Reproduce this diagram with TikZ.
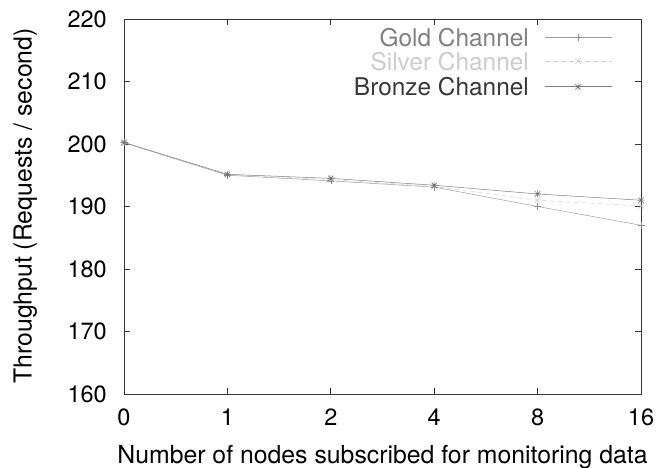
\documentclass[tikz,border=0pt]{standalone}
\usepackage{fontspec}
\setmainfont{TeX Gyre Heros}
\begin{document}
\begin{tikzpicture}[x=1pt,y=1pt,
  every node/.style={inner sep=0pt, font=\fontsize{23.5}{28}\selectfont},
  titlefont/.style={font=\fontsize{24.8}{30}\selectfont},
  frame/.style={draw=black!80, line width=0.8pt},
  tickmark/.style={draw=black!80, line width=0.7pt},
  goldline/.style={draw=black!38, line width=0.5pt},
  silverline/.style={draw=black!18, line width=0.5pt, dash pattern=on 5pt off 3pt},
  bronzeline/.style={draw=black!50, line width=0.5pt},
  goldmark/.pic={\draw[black!45, line width=0.5pt] (-3.5pt,0pt) -- (3.5pt,0pt) (0pt,-3.5pt) -- (0pt,3.5pt);},
  silvermark/.pic={\draw[black!22, line width=0.5pt] (-2.7pt,-2.7pt) -- (2.7pt,2.7pt) (-2.7pt,2.7pt) -- (2.7pt,-2.7pt);},
  bronzemark/.pic={\draw[black!58, line width=0.5pt] (-2.7pt,-2.7pt) -- (2.7pt,2.7pt) (-2.7pt,2.7pt) -- (2.7pt,-2.7pt) (-3.5pt,0pt) -- (3.5pt,0pt) (0pt,-3.5pt) -- (0pt,3.5pt);},
]
\useasboundingbox (0,0) rectangle (665,468);

% plot area: x index 0..5, throughput 160..220
\begin{scope}[shift={(124,74)}, x=103.4pt, y=6.25pt]
  % ticks on all four sides
  \foreach \i in {1,...,4} {
    \draw[tickmark] (\i,0) -- ++(0pt,6pt);
    \draw[tickmark] (\i,60) -- ++(0pt,-6pt);
  }
  \foreach \v in {10,20,...,50} {
    \draw[tickmark] (0,\v) -- ++(6pt,0pt);
    \draw[tickmark] (5,\v) -- ++(-6pt,0pt);
  }
  \draw[frame] (0,0) rectangle (5,60);

  % tick labels
  \foreach \v/\t [count=\k] in {0/160,10/170,20/180,30/190,40/200,50/210,60/220}
    \node[anchor=east] (yl\k) at ([xshift=-17pt]0,\v) {\t};
  \foreach \i/\t in {0/0,1/1,2/2,3/4,4/8,5/16}
    \node[anchor=base] (xl\i) at ([yshift=-32pt]\i,0) {\t};

  % data points
  \foreach \i/\v in {0/40.2,1/35.0,2/34.1,3/33.1,4/30.0,5/27.0}
    \coordinate (g\i) at (\i,\v);
  \foreach \i/\v in {0/40.2,1/35.1,2/34.3,3/33.2,4/31.0,5/30.1}
    \coordinate (s\i) at (\i,\v);
  \foreach \i/\v in {0/40.25,1/35.15,2/34.5,3/33.4,4/32.0,5/31.0}
    \coordinate (b\i) at (\i,\v);

  \draw[goldline] (g0) -- (g1) -- (g2) -- (g3) -- (g4) -- (g5);
  \draw[silverline] (s0) -- (s1) -- (s2) -- (s3) -- (s4) -- (s5);
  \draw[bronzeline] (b0) -- (b1) -- (b2) -- (b3) -- (b4) -- (b5);
  \foreach \i in {0,...,5} {
    \pic at (g\i) {goldmark};
    \pic at (s\i) {silvermark};
    \pic at (b\i) {bronzemark};
  }
\end{scope}

% axis titles
\node[anchor=base, titlefont] (xtitle) at (382.5,4) {Number of nodes subscribed for monitoring data};
\node[anchor=base, rotate=90, titlefont] (ytitle) at (31.5,262) {Throughput (Requests / second)};

% legend
\begin{scope}[every node/.style={inner sep=0pt, anchor=east, font=\fontsize{24.4}{29}\selectfont}]
  \node[text=black!50] (lgold) at (529,430.7) {Gold Channel};
  \node[text=black!20] (lsilver) at (529,406.7) {Silver Channel};
  \node[text=black!78] (lbronze) at (529,381.3) {Bronze Channel};
\end{scope}
\coordinate (ga) at (545,430.7); \coordinate (gb) at (612,430.7);
\coordinate (sa) at (545,406.7); \coordinate (sb) at (612,406.7);
\coordinate (ba) at (545,381.3); \coordinate (bb) at (612,381.3);
\draw[goldline] (ga) -- (gb);
\draw[silverline] (sa) -- (sb);
\draw[bronzeline] (ba) -- (bb);
\pic at (578,430.7) {goldmark};
\pic at (578,406.7) {silvermark};
\pic at (578,381.3) {bronzemark};
\end{tikzpicture}
\end{document}
